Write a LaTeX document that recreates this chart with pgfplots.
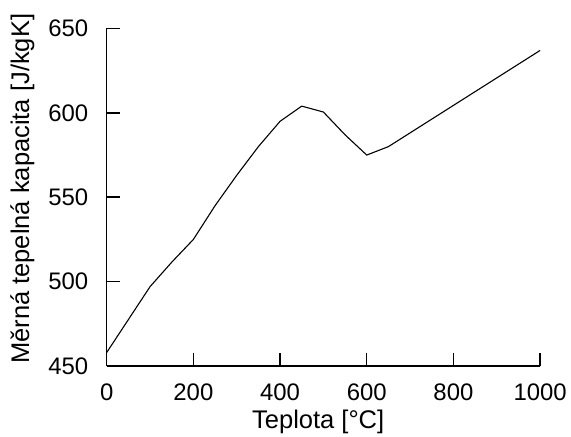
\documentclass[border=0pt]{standalone}
\usepackage{fontspec}
\setmainfont{Liberation Sans}
\usepackage{pgfplots}
\pgfplotsset{compat=1.18}

\begin{document}
\begin{tikzpicture}
\begin{axis}[
  scale only axis, width=216.7bp, height=168.75bp,
  xmin=0, xmax=1000, ymin=450, ymax=650,
  xtick={0,200,...,1000}, ytick={450,500,...,650},
  axis x line=bottom, axis y line=left,
  axis line style={-, line width=0.75bp, black},
  major tick length=6.4bp,
  every major tick/.append style={black, line width=0.75bp},
  xtick style={yshift=3.2bp},
  ytick style={xshift=3.2bp},
  /pgf/number format/assume math mode=true,
  /pgf/number format/1000 sep={},
  tick label style={font=\fontsize{12}{14}\selectfont},
  xticklabel style={inner ysep=0pt, yshift=-5.5bp},
  yticklabel style={inner xsep=0pt, xshift=-5.8bp},
  label style={font=\fontsize{12.8}{15}\selectfont},
  xlabel={Teplota [°C]},
  ylabel={Měrná tepelná kapacita [J/kgK]},
  xlabel style={at={(axis cs:488,412.7)}, anchor=base},
  ylabel style={at={(axis cs:-179,555)}, anchor=base},
  clip=false,
]
\coordinate (o) at (rel axis cs:0,0);
\addplot[black, line width=0.55bp] coordinates {
  (0,458) (50,477.5) (100,497) (150,511.5) (200,525) (250,545)
  (300,563) (350,580) (400,595) (450,604) (500,600.5) (550,587)
  (600,575) (650,580) (1000,637)
};
\end{axis}
\pgfresetboundingbox
\path (o) ++(-53.35bp,-35.5bp) rectangle ++(285.5bp,218.5bp);
\end{tikzpicture}
\end{document}
